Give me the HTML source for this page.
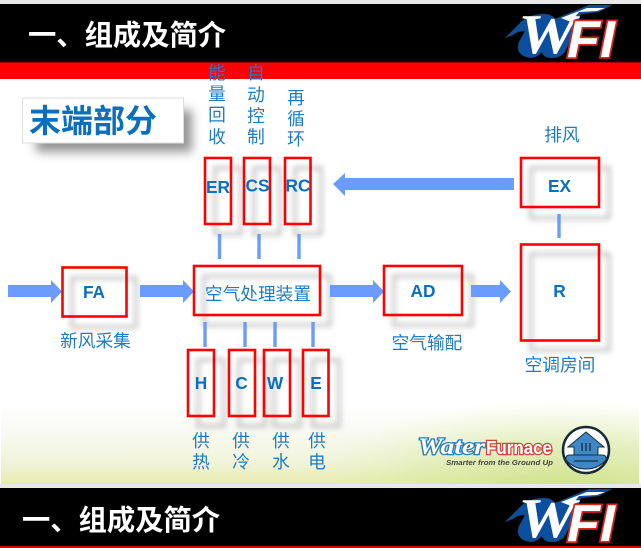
<!DOCTYPE html>
<html lang="zh"><head><meta charset="utf-8"><title>末端部分</title>
<style>
html,body{margin:0;padding:0;background:#fff}
svg{display:block}
.cn{font-family:"Liberation Sans","Noto Sans CJK SC",sans-serif}
.l{font-size:17.700px;fill:#1f7cc4;text-anchor:middle}
.b{font-family:"Liberation Sans",sans-serif;font-weight:bold;font-size:17.300px;fill:#0a6fbd;text-anchor:middle}
.t{font-size:28.300px;font-weight:bold;fill:#fff}
.r{fill:none;stroke:#f00;stroke-width:2.600}
.s{fill:none;stroke:#000;stroke-opacity:.2;stroke-width:4}
.v{stroke:#6a9cff;stroke-width:3.400}
.a{fill:#6a9cff}
</style></head><body>
<svg width="641" height="548" viewBox="0 0 641 548" xmlns="http://www.w3.org/2000/svg">
<defs>
<linearGradient id="g" x1="0" y1="0" x2="0" y2="1"><stop offset="0" stop-color="#fff"/><stop offset=".35" stop-color="#f9faf3"/><stop offset=".75" stop-color="#f0f3d8"/><stop offset="1" stop-color="#e6ecae"/></linearGradient>
<radialGradient id="g2" gradientUnits="userSpaceOnUse" cx="560" cy="490" r="1" gradientTransform="translate(560 490) scale(260 90) translate(-560 -490)"><stop offset="0" stop-color="#c9e07e" stop-opacity=".8"/><stop offset=".6" stop-color="#d5e89a" stop-opacity=".45"/><stop offset="1" stop-color="#e6f0b8" stop-opacity="0"/></radialGradient>
<filter id="bl" x="-40%" y="-40%" width="180%" height="180%"><feGaussianBlur stdDeviation="3"/></filter>
<filter id="bl2" x="-30%" y="-50%" width="160%" height="200%"><feGaussianBlur stdDeviation="5"/></filter>
<g id="logo">
<path d="M0 38 L14 24 Q22 15 36 14 Q46 13 50 19 L84 5 L107 5 L94 12 L76 14 L62 48 Q58 58 47 58 Q38 58 37 52 Q30 60 21 57 Q10 53 14 42 L20 31 Q12 31 8 35 Z" fill="#0b4f9e" stroke="#3a2f2a" stroke-width=".5"/>
<text x="13" y="53" font-family="Liberation Serif" font-style="italic" font-weight="bold" font-size="56" fill="#fff" textLength="58" lengthAdjust="spacingAndGlyphs">W</text>
<path d="M56 18 L82 8 L100 8 L92 11 L74 12 L66 22 Z" fill="#fff"/>
<text x="62" y="57" font-family="Liberation Sans" font-style="italic" font-weight="bold" font-size="52" fill="#fff" stroke="#d8261c" stroke-width="3.400" paint-order="stroke" textLength="48" lengthAdjust="spacingAndGlyphs">FI</text>
</g>
</defs>

<rect width="641" height="548" fill="#fff"/>
<rect width="641" height="4" fill="#e8e8e8"/>
<rect x="0" y="4" width="641" height="58" fill="#000"/>
<rect x="0" y="62" width="641" height="17" fill="#f00"/>
<rect x="0" y="62" width="641" height="1" fill="#a00"/>

<rect x="1" y="404" width="638" height="80" fill="url(#g)"/>
<rect x="300" y="400" width="339" height="84" fill="url(#g2)"/>
<rect x="0" y="484" width="641" height="4" fill="#e8e8e8"/>
<rect x="0" y="488" width="641" height="58" fill="#000"/>
<rect x="0" y="546" width="641" height="2" fill="#d00"/>

<text x="28" y="45" class="cn t">一、组成及简介</text>
<text x="22" y="530" class="cn t">一、组成及简介</text>
<use href="#logo" x="505" y="0"/>
<use href="#logo" x="505" y="484"/>

<!-- title card -->
<rect x="36" y="110" width="156" height="42" fill="#000" fill-opacity=".42" filter="url(#bl2)"/>
<rect x="22.500" y="98" width="161" height="45" fill="#fff" stroke="#ddd"/>
<text x="29" y="132" class="cn" font-size="32" font-weight="bold" fill="#0b6fbd">末端部分</text>

<!-- shadows -->
<g filter="url(#bl)">
<rect class="s" x="72" y="278" width="64" height="49"/>
<rect class="s" x="215" y="168" width="26" height="66"/>
<rect class="s" x="254" y="168" width="26" height="66"/>
<rect class="s" x="295" y="168" width="26" height="66"/>
<rect class="s" x="204" y="276" width="126" height="49"/>
<rect class="s" x="198" y="360" width="26" height="66"/>
<rect class="s" x="239" y="360" width="26" height="66"/>
<rect class="s" x="274" y="360" width="26" height="66"/>
<rect class="s" x="313" y="360" width="26" height="66"/>
<rect class="s" x="394" y="276" width="78" height="49"/>
<rect class="s" x="531" y="168" width="78" height="50"/>
<rect class="s" x="531" y="254" width="78" height="96"/>
</g>

<!-- connectors -->
<path class="v" d="M219.500 234V259M259 234V259M299 234V259M205 322V347M245 322V347M275 322V347M313 322V347M559 214V238"/>
<path class="a" d="M8 285H51V280L62 291.500L51 303V297H8Z"/>
<path class="a" d="M140 285H183V280L194 291.500L183 303V297H140Z"/>
<path class="a" d="M330 285H373V280L384 291.500L373 303V297H330Z"/>
<path class="a" d="M471 285H500V280L511 291.500L500 303V297H471Z"/>
<path class="a" d="M514 178V190H345V196L333 184L345 173V178Z"/>

<!-- boxes -->
<rect class="r" x="62.500" y="267.500" width="64" height="49"/>
<rect class="r" x="205" y="158" width="26" height="66"/>
<rect class="r" x="244" y="158" width="26" height="66"/>
<rect class="r" x="285" y="158" width="25.500" height="66"/>
<rect class="r" x="194" y="266" width="126" height="49"/>
<rect class="r" x="188" y="350" width="26" height="66"/>
<rect class="r" x="229" y="350" width="26" height="66"/>
<rect class="r" x="264" y="350" width="26" height="66"/>
<rect class="r" x="303" y="350" width="25.500" height="66"/>
<rect class="r" x="384" y="266" width="78" height="49"/>
<rect class="r" x="521" y="158" width="78" height="49"/>
<rect class="r" x="521" y="244.500" width="78" height="96"/>

<!-- box labels -->
<text x="94" y="298" class="b">FA</text>
<text x="218" y="193" class="b">ER</text>
<text x="257.500" y="191.500" class="b">CS</text>
<text x="298" y="191.500" class="b">RC</text>
<text x="201" y="389" class="b">H</text>
<text x="241.500" y="389" class="b">C</text>
<text x="275" y="389" class="b">W</text>
<text x="316" y="389" class="b">E</text>
<text x="423" y="297" class="b">AD</text>
<text x="559.500" y="192" class="b">EX</text>
<text x="559.500" y="297" class="b">R</text>
<text x="258" y="300" class="cn l">空气处理装置</text>

<!-- captions -->
<text x="95.500" y="347" class="cn l">新风采集</text>
<text x="427" y="349" class="cn l">空气输配</text>
<text x="560" y="371" class="cn l">空调房间</text>
<text x="562" y="141" class="cn l">排风</text>
<g class="cn">
<text x="217" y="79" class="l">能</text><text x="217" y="100" class="l">量</text><text x="217" y="121" class="l">回</text><text x="217" y="143" class="l">收</text>
<text x="256" y="79" class="l">自</text><text x="256" y="101" class="l">动</text><text x="256" y="122" class="l">控</text><text x="256" y="143" class="l">制</text>
<text x="296" y="104" class="l">再</text><text x="296" y="125" class="l">循</text><text x="296" y="145" class="l">环</text>
<text x="201" y="447" class="l">供</text><text x="201" y="468" class="l">热</text>
<text x="241" y="447" class="l">供</text><text x="241" y="468" class="l">冷</text>
<text x="281" y="447" class="l">供</text><text x="281" y="468" class="l">水</text>
<text x="317" y="447" class="l">供</text><text x="317" y="468" class="l">电</text>
</g>

<!-- WaterFurnace logo -->
<text x="418" y="454" font-family="Liberation Serif" font-style="italic" font-weight="bold" font-size="23" fill="#fff" stroke="#2a78b8" stroke-width="2.400" paint-order="stroke" textLength="67" lengthAdjust="spacingAndGlyphs">Water</text>
<text x="486" y="454" font-family="Liberation Sans" font-weight="bold" font-size="18" fill="#fff" stroke="#d8433a" stroke-width="2.600" paint-order="stroke" textLength="66" lengthAdjust="spacingAndGlyphs">Furnace</text>
<text x="446" y="465" font-family="Liberation Sans" font-style="italic" font-weight="bold" font-size="7.500" fill="#444" textLength="107" lengthAdjust="spacingAndGlyphs">Smarter from the Ground Up</text>
<circle cx="586" cy="450" r="23" fill="#fff" stroke="#1a2a35" stroke-width="2.500"/>
<path d="M586 432L604 447H598V456H574V447H568Z" fill="#3f88c5" stroke="#16303f"/>
<path d="M570 455H602Q607 455 606 460Q598 469 586 469Q574 469 566 460Q565 455 570 455Z" fill="#3f88c5" stroke="#16303f"/>
<path d="M574 461H598M582 443V451M586 443V451M590 443V451" stroke="#16303f" stroke-width="1.300" fill="none"/>
</svg>
</body></html>
